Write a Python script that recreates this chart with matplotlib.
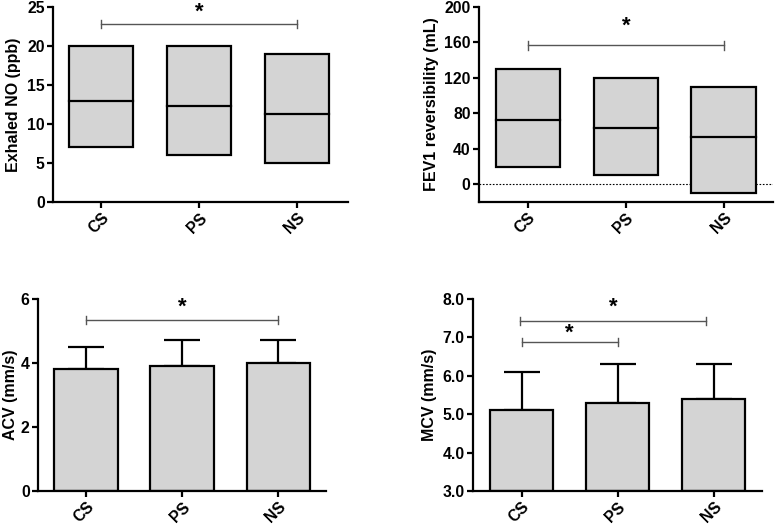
import matplotlib
matplotlib.use("Agg")
import matplotlib.pyplot as plt
import numpy as np

plt.rcParams['font.family'] = ['Liberation Sans', 'DejaVu Sans']
plt.rcParams['font.weight'] = 'bold'
plt.rcParams['axes.labelweight'] = 'bold'

groups = ["CS", "PS", "NS"]

# Exhaled NO floating boxes (min, max, median)
no_low = [7, 6, 5]
no_high = [20, 20, 19]
no_med = [13, 12.3, 11.3]

# FEV1 reversibility floating boxes
fev_low = [20, 10, -10]
fev_high = [130, 120, 110]
fev_med = [73, 63, 53]

# ACV mean and upper SD
acv_mean = [3.8, 3.9, 4.0]
acv_sd = [0.7, 0.8, 0.7]

# MCV mean and upper SD
mcv_mean = [5.1, 5.3, 5.4]
mcv_sd = [1.0, 1.0, 0.9]

FILL = "#d4d4d4"
EDGE = "black"
BRK = "#555555"
TFS = 11.3
LFS = 11.5

fig = plt.figure(figsize=(7.75, 5.28), dpi=100)

def style(ax):
    for s in ["top", "right"]:
        ax.spines[s].set_visible(False)
    for s in ["left", "bottom"]:
        ax.spines[s].set_linewidth(1.6)
    ax.tick_params(axis='both', width=1.6, length=4, labelsize=TFS, pad=2)
    ax.set_xticks(range(len(groups)))
    ax.set_xticklabels(groups, rotation=45, ha='right', rotation_mode='anchor')
    for lab in ax.get_xticklabels() + ax.get_yticklabels():
        lab.set_fontweight('bold')

def bracket(ax, x1, x2, y, h, star_y, fs=16):
    ax.plot([x1, x2], [y, y], color=BRK, lw=1.0, clip_on=False)
    ax.plot([x1, x1], [y - h, y + h], color=BRK, lw=1.0, clip_on=False)
    ax.plot([x2, x2], [y - h, y + h], color=BRK, lw=1.0, clip_on=False)
    ax.text((x1 + x2) / 2, star_y, "*", ha='center', va='center', fontsize=fs, fontweight='bold')

x = np.arange(len(groups))
w = 0.66

# Panel 1
ax1 = fig.add_axes([0.0684, 0.6174, 0.3806, 0.3693])
ax1.bar(x, np.array(no_high) - np.array(no_low), bottom=no_low, width=w,
        color=FILL, edgecolor=EDGE, linewidth=1.6)
for i in x:
    ax1.plot([i - w / 2, i + w / 2], [no_med[i], no_med[i]], color=EDGE, lw=1.6)
ax1.set_xlim(-0.49, 2.52)
ax1.set_ylim(0, 25)
ax1.set_yticks([0, 5, 10, 15, 20, 25])
ax1.set_ylabel("Exhaled NO (ppb)", fontsize=LFS, labelpad=4)
style(ax1)
bracket(ax1, 0, 2, 22.8, 0.55, 24.3)

# Panel 2
ax2 = fig.add_axes([0.618, 0.6174, 0.379, 0.3693])
ax2.axhline(0, color='black', lw=0.8, ls=(0, (1.5, 1.5)), zorder=0)
ax2.bar(x, np.array(fev_high) - np.array(fev_low), bottom=fev_low, width=w,
        color=FILL, edgecolor=EDGE, linewidth=1.6)
for i in x:
    ax2.plot([i - w / 2, i + w / 2], [fev_med[i], fev_med[i]], color=EDGE, lw=1.6)
ax2.set_xlim(-0.5, 2.5)
ax2.set_ylim(-20, 200)
ax2.set_yticks([0, 40, 80, 120, 160, 200])
ax2.set_ylabel("FEV1 reversibility (mL)", fontsize=LFS, labelpad=4)
style(ax2)
bracket(ax2, 0, 2, 157, 5, 178)

# Panel 3
ax3 = fig.add_axes([0.049, 0.070, 0.372, 0.364])
ax3.bar(x, acv_mean, width=w, color=FILL, edgecolor=EDGE, linewidth=1.6, zorder=2)
ax3.errorbar(x, acv_mean, yerr=[np.zeros(3), acv_sd], fmt='none', ecolor=EDGE,
             elinewidth=1.6, capsize=13, capthick=1.6, zorder=1)
ax3.set_xlim(-0.5, 2.5)
ax3.set_ylim(0, 6)
ax3.set_yticks([0, 2, 4, 6])
ax3.set_ylabel("ACV (mm/s)", fontsize=LFS, labelpad=2)
style(ax3)
bracket(ax3, 0, 2, 5.34, 0.14, 5.73)

# Panel 4
ax4 = fig.add_axes([0.610, 0.070, 0.373, 0.364])
ax4.bar(x, np.array(mcv_mean) - 3, bottom=3, width=w, color=FILL, edgecolor=EDGE,
        linewidth=1.6, zorder=2)
ax4.errorbar(x, mcv_mean, yerr=[np.zeros(3), mcv_sd], fmt='none', ecolor=EDGE,
             elinewidth=1.6, capsize=13, capthick=1.6, zorder=1)
ax4.set_xlim(-0.51, 2.5)
ax4.set_ylim(3, 8)
ax4.set_yticks([3, 4, 5, 6, 7, 8])
ax4.set_yticklabels(["3.0", "4.0", "5.0", "6.0", "7.0", "8.0"])
ax4.set_ylabel("MCV (mm/s)", fontsize=LFS, labelpad=4)
style(ax4)
bracket(ax4, 0, 1, 6.88, 0.11, 7.1)
bracket(ax4, -0.02, 1.92, 7.43, 0.11, 7.78)

fig.savefig("out.png", dpi=100)
